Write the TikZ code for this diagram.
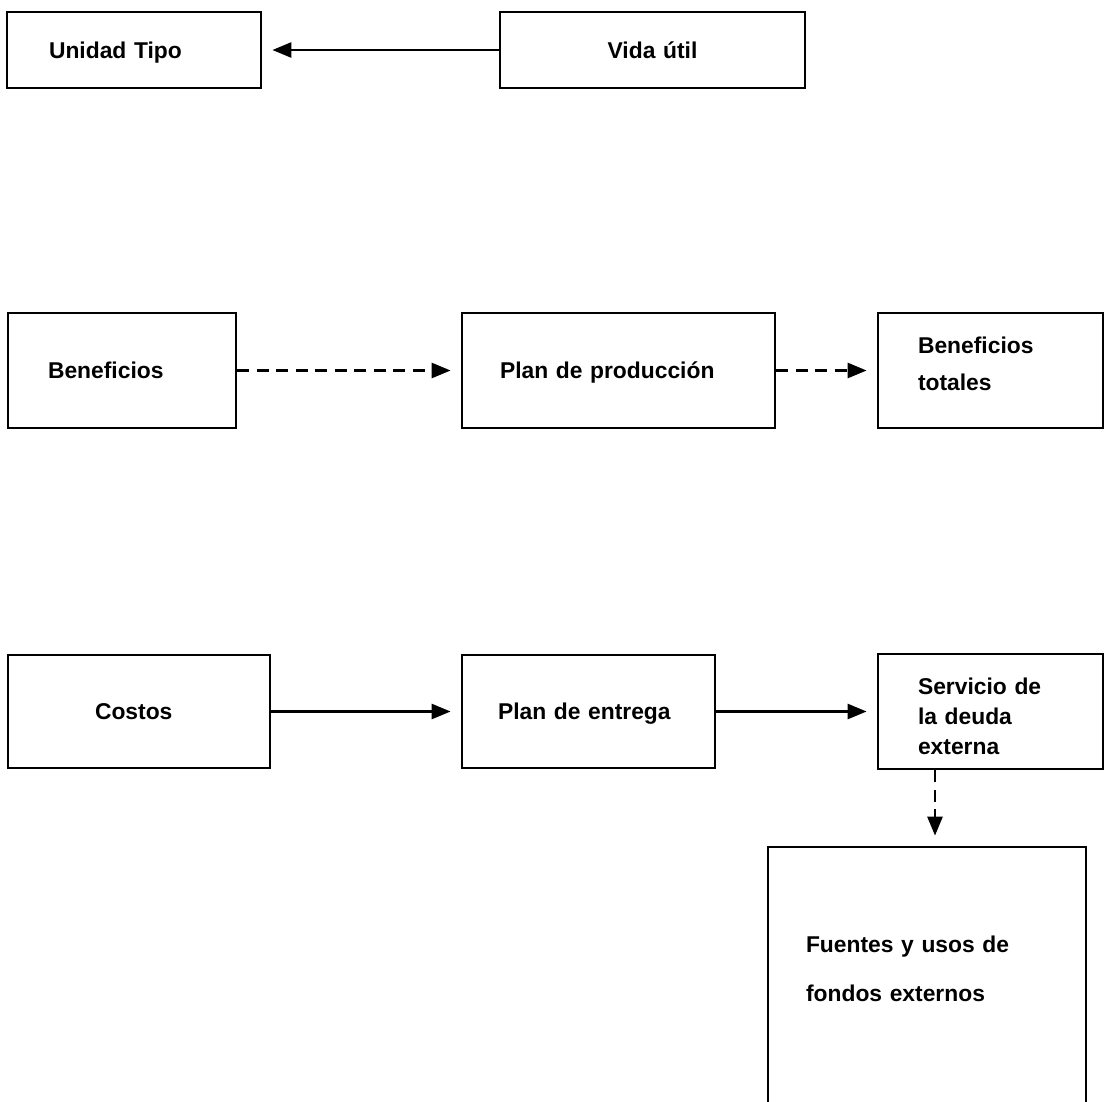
\documentclass[tikz,border=0pt]{standalone}
\usepackage{fontspec}
\setmainfont{Liberation Sans}
\usetikzlibrary{arrows.meta}

\tikzset{
  box/.style={draw, line width=1.6pt, inner ysep=0pt, align=left,
              text depth=0pt,
              font=\bfseries\fontsize{13}{16}\selectfont},
  flow/.style={line width=1.5pt, -{Triangle[length=0.38cm,width=0.3cm]},
               shorten >=0.2cm},
  dflow/.style={flow, dash pattern=on 0.24cm off 0.15cm},
}

\begin{document}
\begin{tikzpicture}[x=0.02cm, y=-0.02cm]
  \useasboundingbox (0,0) rectangle (1106,1102);

  % top row
  \node[box, text width=3.4cm, inner xsep=0.84cm, minimum height=1.52cm]
    (ut) at (134,50) {Unidad Tipo};
  \node[box, align=center, text width=4.9cm, inner xsep=0.6cm, minimum height=1.52cm]
    (vu) at (652.5,50) {Vida útil};

  % benefit row
  \node[box, text width=2.96cm, inner xsep=0.8cm, minimum height=2.3cm]
    (ben) at (122,370.5) {Beneficios};
  \node[box, text width=4.74cm, inner xsep=0.76cm, minimum height=2.3cm]
    (pp) at (618.5,370.5) {Plan de producción};
  \node[box, text width=2.9cm, inner xsep=0.8cm, minimum height=2.3cm,
        text depth=1.02cm, font=\bfseries\fontsize{13}{21}\selectfont]
    (bt) at (990.5,370.5) {Beneficios\\totales};

  % cost row
  \node[box, text width=1.76cm, inner xsep=1.74cm, minimum height=2.26cm]
    (cos) at (139,711.5) {Costos};
  \node[box, text width=3.62cm, inner xsep=0.72cm, minimum height=2.26cm]
    (pe) at (588.5,711.5) {Plan de entrega};
  \node[box, text width=2.9cm, inner xsep=0.8cm, minimum height=2.3cm,
        text depth=1.0cm, font=\bfseries\fontsize{13}{17}\selectfont]
    (sd) at (990.5,711.5) {Servicio de\\la deuda\\externa};

  % external funds
  \node[box, text width=4.84cm, inner xsep=0.76cm, minimum height=5.26cm,
        text depth=1.39cm, font=\bfseries\fontsize{13}{28}\selectfont]
    (fu) at (927,978.5) {Fuentes y usos de\\fondos externos};

  % connectors
  \draw[flow] (vu.west) -- (ut.east);
  \draw[dflow] (ben.east) -- (pp.west);
  \draw[dflow] (pp.east) -- (bt.west);
  \draw[flow] (cos.east) -- (pe.west);
  \draw[flow] (pe.east) -- (sd.west);
  \draw[dflow] ([xshift=0.16cm]sd.south -| fu.north) -- ([xshift=0.16cm]fu.north);
\end{tikzpicture}
\end{document}
